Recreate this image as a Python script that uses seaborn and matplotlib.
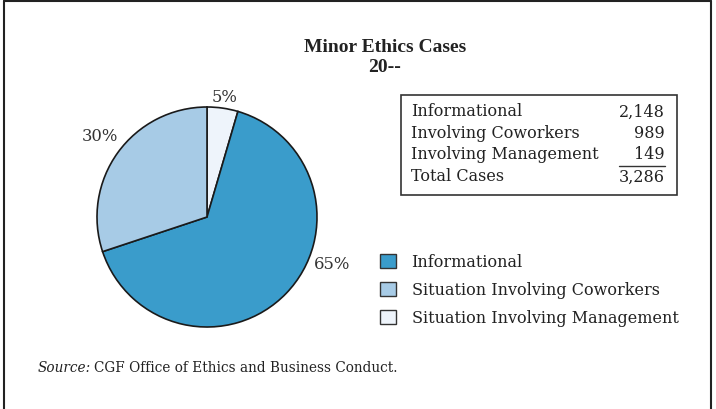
import matplotlib
matplotlib.use("Agg")
import matplotlib.pyplot as plt
import seaborn as sns
import numpy as np
from matplotlib.patches import Rectangle, Patch
from matplotlib.lines import Line2D

sns.set_theme(style="white")
plt.rcParams["font.family"] = ["DejaVu Serif"]

# Case counts by category
categories = ["Informational", "Situation Involving Coworkers", "Situation Involving Management"]
table_labels = ["Informational", "Involving Coworkers", "Involving Management"]
cases = [2148, 989, 149]
total_label = "Total Cases"
title_lines = ["Minor Ethics Cases", "20--"]
source_note = "CGF Office of Ethics and Business Conduct."

colors = {"Informational": "#3a9ccb",
          "Situation Involving Coworkers": "#a7cbe6",
          "Situation Involving Management": "#eef4fb"}

W, H = 716, 410
fig = plt.figure(figsize=(W / 100, H / 100), dpi=100)
fig.patch.set_facecolor("white")


def fx(px):
    return px / W


def fy(py):
    return 1 - py / H


# Frame around the figure (open at the bottom)
frame_kw = dict(color="#222222", lw=1.5)
fig.add_artist(Line2D([fx(4), fx(4)], [0, fy(2)], **frame_kw))
fig.add_artist(Line2D([fx(711), fx(711)], [0, fy(2)], **frame_kw))
fig.add_artist(Line2D([fx(4), fx(711)], [fy(2), fy(2)], **frame_kw))

# Title
for text, y in zip(title_lines, [48, 68]):
    fig.text(fx(385), fy(y), text, ha="center", va="center",
             fontsize=14, fontweight="bold", family=["Liberation Serif"], color="#222222")

# Pie chart: clockwise from 12 o'clock, management first
cx, cy, r = 207, 218, 110
ax = fig.add_axes([fx(cx - r), fy(cy + r), 2 * r / W, 2 * r / H])
pie_order = [2, 0, 1]
vals = [cases[i] for i in pie_order]
cols = [colors[categories[i]] for i in pie_order]
wedges, _ = ax.pie(vals, colors=cols, startangle=90, counterclock=False,
                   wedgeprops=dict(edgecolor="#1a1a1a", linewidth=1.2))
ax.set_xlim(-1, 1)
ax.set_ylim(-1, 1)
ax.set_axis_off()
for w in wedges:
    w.set_clip_on(False)

total = sum(cases)
# label placement per category: (angle in degrees, radius, ha, va)
label_place = {"Situation Involving Management": (81, 1.03, "center", "bottom"),
               "Informational": (-23.3, 1.06, "left", "center"),
               "Situation Involving Coworkers": (137.4, 1.10, "right", "center")}
for i, cat in enumerate(categories):
    ang, rad, ha, va = label_place[cat]
    t = np.deg2rad(ang)
    ax.text(rad * np.cos(t), rad * np.sin(t), f"{100 * cases[i] / total:.0f}%",
            ha=ha, va=va, fontsize=11.8, color="#333333", clip_on=False)

# Summary table box
fig.add_artist(Rectangle((fx(401), fy(196)), fx(677) - fx(401), fy(96) - fy(196),
                         fill=False, edgecolor="#333333", lw=1.2, transform=fig.transFigure))
row_y = [112, 133, 155, 177]
rows = list(zip(table_labels, cases)) + [(total_label, total)]
for (lab, v), y in zip(rows, row_y):
    fig.text(fx(411), fy(y), lab, ha="left", va="center", fontsize=11.5, color="#222222")
    fig.text(fx(665), fy(y), f"{v:,}", ha="right", va="center", fontsize=11.5, color="#222222")
fig.add_artist(Line2D([fx(619), fx(665)], [fy(167), fy(167)], color="#333333", lw=1.0))

# Legend
handles = [Patch(facecolor=colors[c], edgecolor="#333333", linewidth=1.0) for c in categories]
leg = fig.legend(handles, categories, loc="upper left",
                 bbox_to_anchor=(fx(374), fy(248)), frameon=False,
                 fontsize=11.5, handlelength=0.95, handleheight=0.95,
                 handletextpad=1.0, labelspacing=0.68, borderaxespad=0)
for t in leg.get_texts():
    t.set_color("#222222")

# Source note
src = fig.text(fx(38), fy(368), "Source:", ha="left", va="center", fontsize=9.8,
               style="italic", color="#222222")
fig.canvas.draw()
bb = src.get_window_extent()
fig.text((bb.x1 + 3) / W, fy(368), source_note, ha="left", va="center",
         fontsize=9.8, color="#222222")

fig.savefig("out.png", dpi=100, facecolor="white")
